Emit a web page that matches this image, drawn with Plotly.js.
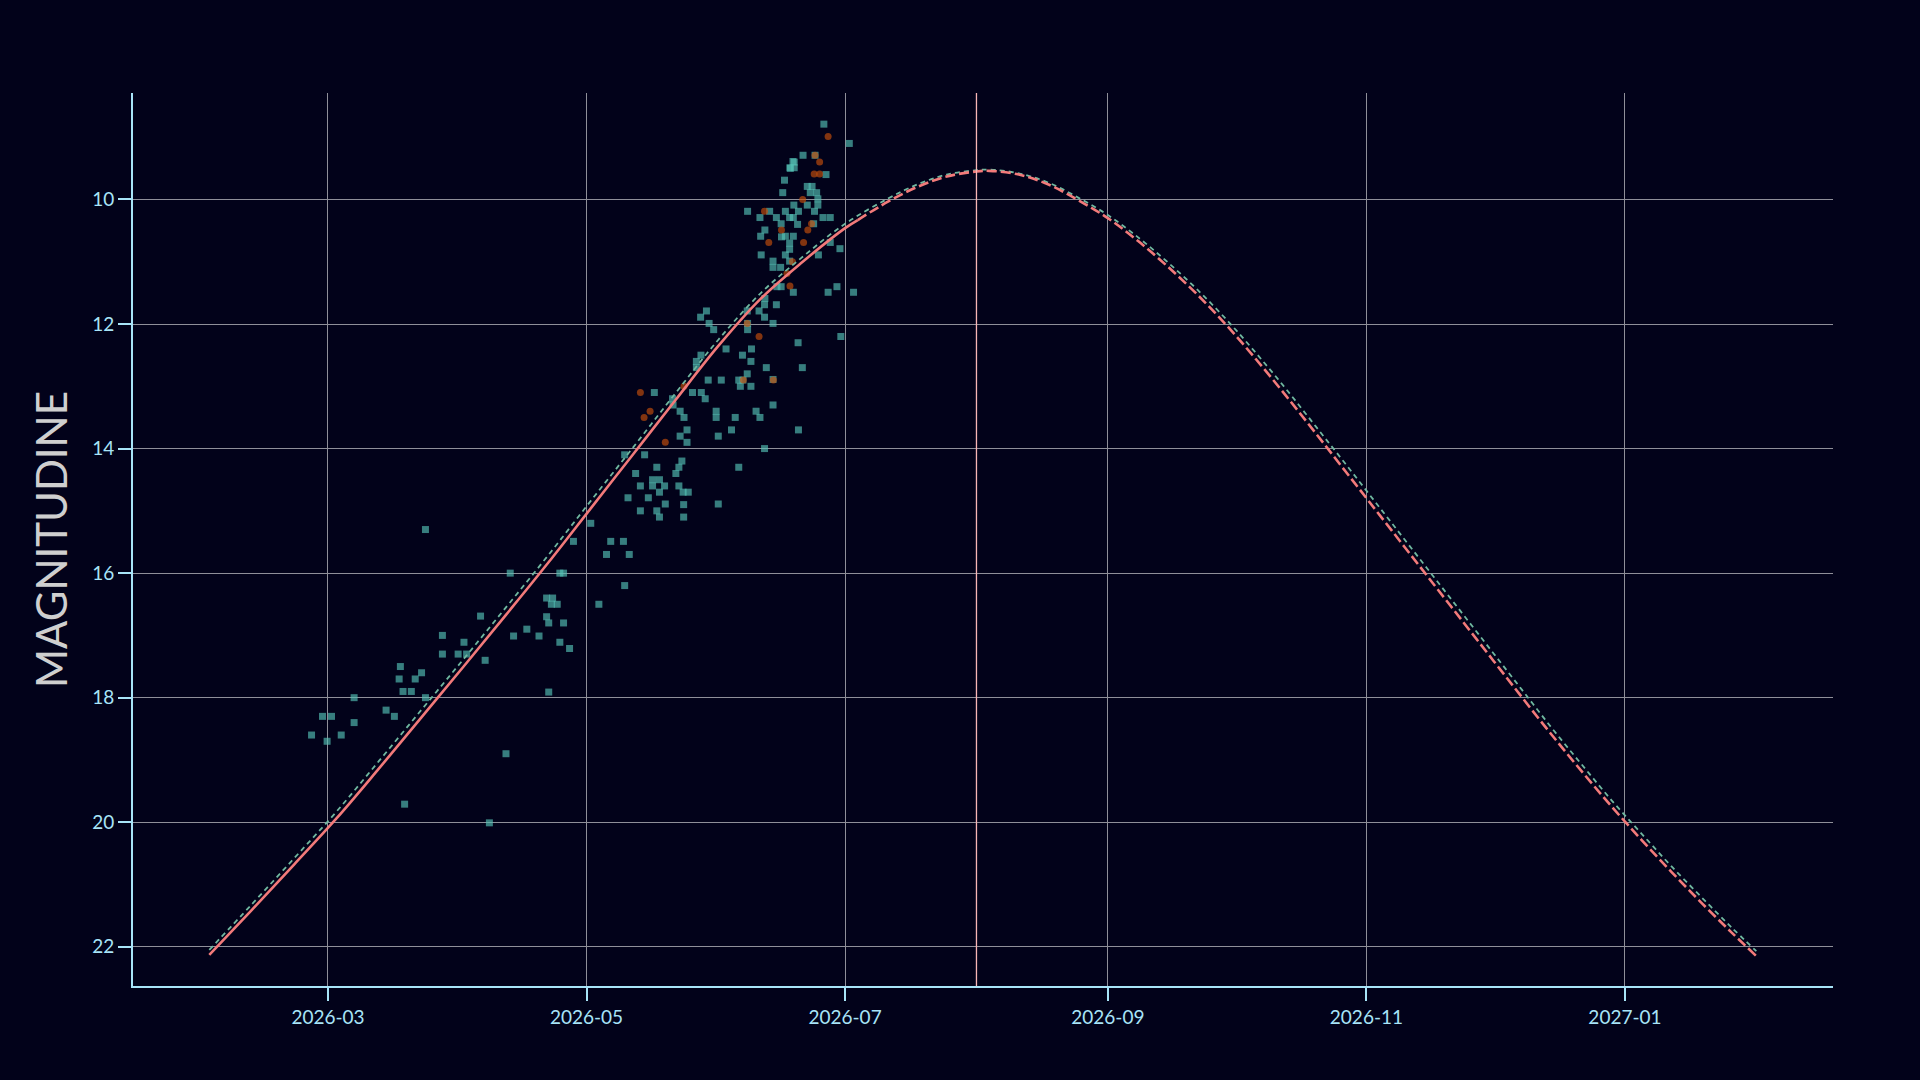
<!DOCTYPE html>
<html>
<head>
<meta charset="utf-8">
<script src="https://cdn.plot.ly/plotly-3.0.1.min.js"></script>
<style>
  html, body { margin: 0; padding: 0; background: #02021a; }
  #chart { width: 1920px; height: 1080px; }
</style>
</head>
<body>
<div id="chart"></div>
<script>
// observations (squares) - magnitudes
const obsDates = [
  "2026-02-25 03:00", "2026-02-27 17:00", "2026-03-01 20:00", "2026-02-28 19:00", "2026-03-04 03:00",
  "2026-03-07 04:00", "2026-03-07 04:00", "2026-03-14 17:00", "2026-03-16 16:00", "2026-03-18 02:00",
  "2026-03-17 19:00", "2026-03-18 17:00", "2026-03-20 16:00", "2026-03-21 14:00", "2026-03-23 02:00",
  "2026-03-24 00:00", "2026-03-19 02:00", "2026-03-24 00:00", "2026-03-28 00:00", "2026-03-28 00:00",
  "2026-03-31 17:00", "2026-04-02 02:00", "2026-04-02 17:00", "2026-04-06 00:00", "2026-04-07 02:00",
  "2026-04-08 02:00", "2026-04-12 00:00", "2026-04-13 00:00", "2026-04-13 19:00", "2026-04-16 22:00",
  "2026-04-19 19:00", "2026-04-21 14:00", "2026-04-23 00:00", "2026-04-22 17:00", "2026-04-24 02:00",
  "2026-04-21 14:00", "2026-04-22 02:00", "2026-04-25 14:00", "2026-04-24 17:00", "2026-04-27 00:00",
  "2026-04-22 02:00", "2026-04-24 17:00", "2026-04-25 14:00", "2026-04-27 22:00", "2026-05-02 00:00",
  "2026-05-03 22:00", "2026-05-05 17:00", "2026-05-06 17:00", "2026-05-09 17:00", "2026-05-11 02:00",
  "2026-05-10 00:00", "2026-05-10 00:00", "2026-05-10 19:00", "2026-05-12 14:00", "2026-05-13 17:00",
  "2026-05-13 17:00", "2026-05-14 17:00", "2026-05-15 14:00", "2026-05-16 14:00", "2026-05-16 14:00",
  "2026-05-17 14:00", "2026-05-18 05:00", "2026-05-18 05:00", "2026-05-17 14:00", "2026-05-18 05:00",
  "2026-05-19 10:00", "2026-05-19 14:00", "2026-05-22 02:00", "2026-05-22 19:00", "2026-05-23 12:00",
  "2026-05-22 19:00", "2026-05-23 19:00", "2026-05-25 00:00", "2026-05-23 22:00", "2026-05-23 22:00",
  "2026-06-01 02:00", "2026-06-05 22:00", "2026-06-12 00:00", "2026-05-17 00:00", "2026-05-21 07:00",
  "2026-05-21 10:00", "2026-05-23 02:00", "2026-05-24 00:00", "2026-05-24 17:00", "2026-05-23 02:00",
  "2026-05-24 17:00", "2026-05-26 00:00", "2026-05-28 02:00", "2026-05-29 00:00", "2026-05-26 22:00",
  "2026-05-26 22:00", "2026-05-28 00:00", "2026-05-29 17:00", "2026-06-01 19:00", "2026-05-31 14:00",
  "2026-05-31 14:00", "2026-06-01 02:00", "2026-06-04 05:00", "2026-06-05 02:00", "2026-06-05 22:00",
  "2026-06-06 07:00", "2026-06-06 22:00", "2026-06-07 22:00", "2026-06-08 19:00", "2026-06-08 19:00",
  "2026-06-08 22:00", "2026-06-06 19:00", "2026-06-10 00:00", "2026-06-10 22:00", "2026-06-12 10:00",
  "2026-06-14 00:00", "2026-06-14 00:00", "2026-06-19 22:00", "2026-06-20 22:00", "2026-06-20 00:00",
  "2026-06-30 00:00", "2026-07-03 00:00", "2026-06-29 02:00", "2026-06-27 00:00", "2026-05-27 22:00",
  "2026-05-29 07:00", "2026-05-29 22:00", "2026-05-31 00:00", "2026-06-02 22:00", "2026-06-07 22:00",
  "2026-06-08 00:00", "2026-06-08 00:00", "2026-06-10 17:00", "2026-06-12 00:00", "2026-06-12 00:00",
  "2026-06-14 19:00", "2026-06-12 02:00", "2026-06-14 22:00", "2026-06-15 22:00", "2026-06-18 19:00",
  "2026-06-14 00:00", "2026-06-11 05:00", "2026-06-08 00:00", "2026-06-10 22:00", "2026-06-12 02:00",
  "2026-06-13 05:00", "2026-06-11 02:00", "2026-06-14 00:00", "2026-06-14 00:00", "2026-06-15 19:00",
  "2026-06-14 19:00", "2026-06-15 22:00", "2026-06-16 22:00", "2026-06-17 22:00", "2026-06-18 19:00",
  "2026-06-16 22:00", "2026-06-17 22:00", "2026-06-18 19:00", "2026-06-16 22:00", "2026-06-17 22:00",
  "2026-06-17 22:00", "2026-06-16 00:00", "2026-06-19 19:00", "2026-06-20 00:00", "2026-06-18 22:00",
  "2026-06-22 02:00", "2026-06-22 19:00", "2026-06-24 07:00", "2026-06-22 02:00", "2026-06-23 05:00",
  "2026-06-24 14:00", "2026-06-23 19:00", "2026-06-24 14:00", "2026-06-25 19:00", "2026-06-27 12:00",
  "2026-06-23 14:00", "2026-06-24 17:00", "2026-06-27 12:00", "2026-06-29 19:00", "2026-06-26 12:00",
  "2026-06-16 17:00", "2026-06-16 07:00", "2026-06-18 02:00", "2026-06-18 17:00", "2026-06-21 02:00",
  "2026-06-23 22:00", "2026-06-26 00:00", "2026-07-02 00:00", "2026-06-19 00:00", "2026-06-18 00:00",
  "2026-06-19 00:00"
];
const obsMags = [
  18.60, 18.30, 18.30, 18.70, 18.60,
  18.00, 18.40, 18.20, 18.30, 17.50,
  17.70, 17.90, 17.90, 17.70, 17.60,
  18.00, 19.71, 15.30, 17.00, 17.30,
  17.30, 17.11, 17.30, 16.69, 17.40,
  20.01, 18.90, 16.00, 17.01, 16.90,
  17.01, 16.40, 16.40, 16.50, 16.50,
  16.70, 16.80, 16.80, 17.11, 17.21,
  17.91, 16.00, 16.00, 15.49, 15.20,
  16.50, 15.70, 15.49, 15.49, 15.70,
  16.20, 14.10, 14.79, 14.40, 14.60,
  15.00, 14.10, 14.79, 14.50, 14.60,
  14.30, 14.50, 14.70, 15.00, 15.10,
  14.60, 14.89, 14.40, 14.30, 14.20,
  14.60, 14.70, 14.70, 14.90, 15.10,
  14.89, 14.30, 14.00, 13.10, 13.20,
  13.30, 13.40, 13.50, 13.70, 13.80,
  13.90, 13.10, 13.10, 13.20, 12.70,
  12.60, 12.50, 12.90, 12.90, 13.40,
  13.50, 13.80, 13.70, 13.50, 12.90,
  13.00, 12.90, 12.80, 13.00, 12.60,
  12.40, 12.50, 13.40, 13.50, 12.70,
  13.30, 12.89, 12.30, 12.70, 13.70,
  12.20, 11.49, 11.40, 11.49, 11.89,
  11.79, 11.99, 12.09, 12.40, 11.79,
  11.99, 12.09, 11.79, 11.89, 11.69,
  11.69, 11.59, 11.40, 11.40, 11.49,
  11.99, 10.89, 10.19, 10.29, 10.49,
  10.19, 10.59, 10.99, 11.09, 11.09,
  10.29, 10.39, 10.19, 10.29, 10.29,
  10.59, 10.70, 10.59, 10.89, 10.80,
  10.99, 10.60, 10.40, 10.19, 10.09,
  10.09, 9.89, 9.89, 9.79, 9.79,
  9.99, 10.19, 10.09, 10.29, 10.29,
  10.39, 10.89, 10.69, 10.79, 9.60,
  9.69, 9.89, 9.50, 9.39, 9.29,
  9.29, 8.79, 9.10, 9.40, 9.49,
  9.49
];

// second set of observations (circles)
const altDates = [
  "2026-06-27 00:00", "2026-06-23 22:00", "2026-06-25 00:00", "2026-06-23 17:00", "2026-06-25 00:00",
  "2026-06-21 00:00", "2026-06-12 00:00", "2026-06-23 02:00", "2026-06-22 05:00", "2026-06-13 00:00",
  "2026-06-21 05:00", "2026-06-16 00:00", "2026-06-18 14:00", "2026-06-17 07:00", "2026-06-18 00:00",
  "2026-06-10 17:00", "2026-06-14 02:00", "2026-06-07 00:00", "2026-06-07 22:00", "2026-05-24 00:00",
  "2026-05-13 17:00", "2026-05-16 00:00", "2026-05-14 14:00", "2026-05-19 14:00"
];
const altMags = [
  8.99, 9.29, 9.40, 9.59, 9.59,
  10.00, 10.19, 10.39, 10.49, 10.69,
  10.69, 10.49, 11.00, 11.19, 11.39,
  12.20, 12.90, 12.90, 11.99, 13.00,
  13.10, 13.40, 13.50, 13.90
];

// fitted light curve: solid up to the last observations, dashed afterwards
const fitDates = ["2026-02-01", "2026-02-11", "2026-02-21", "2026-03-03", "2026-03-13", "2026-03-23",
  "2026-04-02", "2026-04-12", "2026-04-22", "2026-05-02", "2026-05-12", "2026-05-22", "2026-06-01",
  "2026-06-11", "2026-06-21", "2026-07-01", "2026-07-04"];
const fitMags = [22.13, 21.41, 20.68, 19.94, 19.14, 18.32, 17.50, 16.67, 15.83, 14.96, 14.09, 13.22,
  12.36, 11.60, 11.00, 10.46, 10.33];

const predDates = ["2026-07-04", "2026-07-11", "2026-07-18", "2026-07-25", "2026-08-01", "2026-08-04",
  "2026-08-11", "2026-08-18", "2026-08-25", "2026-09-01", "2026-09-08", "2026-09-15", "2026-09-22",
  "2026-09-29", "2026-10-06", "2026-10-13", "2026-10-20", "2026-10-27", "2026-11-03", "2026-11-10",
  "2026-11-17", "2026-11-24", "2026-12-01", "2026-12-08", "2026-12-15", "2026-12-22", "2026-12-29",
  "2027-01-05", "2027-01-12", "2027-01-19", "2027-01-26", "2027-02-01"];
const predMags = [10.33, 10.04, 9.80, 9.63, 9.55, 9.54, 9.60, 9.76, 10.01, 10.30, 10.66, 11.07, 11.52,
  12.02, 12.57, 13.15, 13.75, 14.36, 14.97, 15.58, 16.19, 16.80, 17.41, 18.02, 18.62, 19.20, 19.76,
  20.29, 20.80, 21.29, 21.76, 22.15];

// reference ephemeris (thin dashed)
const ephDates = ["2026-02-01", "2026-02-11", "2026-02-21", "2026-03-03", "2026-03-13", "2026-03-23",
  "2026-04-02", "2026-04-12", "2026-04-22", "2026-05-02", "2026-05-12", "2026-05-22", "2026-06-01",
  "2026-06-11", "2026-06-21", "2026-07-01", "2026-07-11", "2026-07-18", "2026-07-25", "2026-08-01",
  "2026-08-04", "2026-08-11", "2026-08-18", "2026-08-25", "2026-09-01", "2026-09-08", "2026-09-15",
  "2026-09-22", "2026-09-29", "2026-10-06", "2026-10-13", "2026-10-20", "2026-10-27", "2026-11-03",
  "2026-11-10", "2026-11-17", "2026-11-24", "2026-12-01", "2026-12-08", "2026-12-15", "2026-12-22",
  "2026-12-29", "2027-01-05", "2027-01-12", "2027-01-19", "2027-01-26", "2027-02-01"];
const ephMags = [22.05, 21.32, 20.58, 19.83, 19.02, 18.20, 17.38, 16.55, 15.71, 14.84, 13.98, 13.11,
  12.26, 11.51, 10.92, 10.39, 9.99, 9.76, 9.60, 9.53, 9.52, 9.58, 9.73, 9.97, 10.25, 10.60, 11.00,
  11.44, 11.93, 12.47, 13.04, 13.64, 14.24, 14.85, 15.46, 16.07, 16.68, 17.29, 17.90, 18.51, 19.09,
  19.66, 20.19, 20.71, 21.20, 21.68, 22.07];

const markDate = "2026-08-01";

const axisCol = "#a8e4f8";
const salmon = "#f27a7a";

let traces = [
  {
    x: obsDates, y: obsMags, type: "scatter", mode: "markers",
    marker: { symbol: "square", size: 7, color: "#55c2b5", opacity: 0.65 },
  },
  {
    x: altDates, y: altMags, type: "scatter", mode: "markers",
    marker: { symbol: "circle", size: 7, color: "rgb(200,80,10)", opacity: 0.65 },
  },
  {
    x: ephDates, y: ephMags, type: "scatter", mode: "lines",
    line: { color: "#6fb8a0", width: 1.8, dash: "5px,4px", shape: "spline", smoothing: 1 },
  },
  {
    x: fitDates, y: fitMags, type: "scatter", mode: "lines",
    line: { color: salmon, width: 2.6, shape: "spline", smoothing: 1 },
  },
  {
    x: predDates, y: predMags, type: "scatter", mode: "lines",
    line: { color: salmon, width: 2.6, dash: "10px,4px", shape: "spline", smoothing: 1 },
  },
];

var layout = {
  width: 1920,
  height: 1080,
  showlegend: false,
  paper_bgcolor: "#02021a",
  plot_bgcolor: "#02021a",
  margin: { l: 133, r: 87, t: 93, b: 94 },
  font: { family: "Lato, sans-serif", color: axisCol, size: 19 },
  xaxis: {
    type: "date",
    range: ["2026-01-14 00:00", "2027-02-19 02:00"],
    tick0: "2026-01-01",
    dtick: "M2",
    tickformat: "%Y-%m",
    showline: true,
    linecolor: axisCol,
    linewidth: 2,
    ticks: "outside",
    ticklen: 13,
    tickwidth: 2,
    tickcolor: axisCol,
    showgrid: true,
    gridcolor: "#8f8f99",
    gridwidth: 1,
    zeroline: false,
    tickfont: { family: "Lato, sans-serif", size: 19, color: axisCol },
  },
  yaxis: {
    range: [22.63, 8.29],
    tick0: 0,
    dtick: 2,
    showline: true,
    linecolor: axisCol,
    linewidth: 2,
    ticks: "outside",
    ticklen: 13,
    tickwidth: 2,
    tickcolor: axisCol,
    showgrid: true,
    gridcolor: "#8f8f99",
    gridwidth: 1,
    zeroline: false,
    tickfont: { family: "Lato, sans-serif", size: 19, color: axisCol },
    title: {
      text: "MAGNITUDINE",
      standoff: 11,
      font: { family: "Lato, sans-serif", size: 42, color: "#cfcfcf" },
    },
  },
  shapes: [
    {
      type: "line",
      xref: "x",
      yref: "paper",
      x0: markDate,
      x1: markDate,
      y0: 0,
      y1: 1,
      layer: "above",
      line: { color: "#f8b6b6", width: 1.3 },
    },
  ],
};

Plotly.newPlot(document.getElementById("chart"), traces, layout, { displayModeBar: false });
</script>
</body>
</html>
